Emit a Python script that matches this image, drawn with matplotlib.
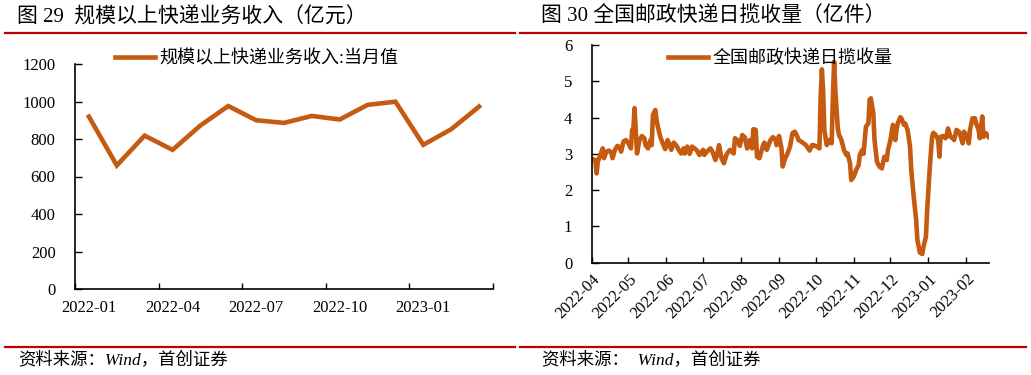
import matplotlib
matplotlib.use("Agg")
import matplotlib.pyplot as plt
import matplotlib.dates as mdates
import numpy as np
import pandas as pd

# ---- Left chart data: monthly revenue (亿元) ----
months = ["2022-01", "2022-02", "2022-03", "2022-04", "2022-05", "2022-06", "2022-07",
          "2022-08", "2022-09", "2022-10", "2022-11", "2022-12", "2023-01", "2023-02", "2023-03"]
revenue = [919, 659, 818, 742, 872, 976, 900, 886, 923, 904, 982, 999, 769, 852, 973]
left_tick_labels = ["2022-01", "2022-04", "2022-07", "2022-10", "2023-01"]

# ---- Right chart data: daily volume (亿件), day offsets from 2022-04-01 ----
day_offsets = [1, 3, 4, 5, 7, 9, 10, 12, 14, 16, 17, 19, 21, 23, 24, 26, 28, 30, 32, 33,
               34, 35, 36, 37, 39, 41, 43, 44, 46, 48, 49, 50, 52, 53, 54, 56, 58, 60, 62, 63,
               65, 67, 69, 71, 73, 75, 76, 78, 80, 82, 84, 86, 88, 91, 92, 94, 97, 99, 101, 103,
               104, 106, 108, 110, 111, 113, 116, 117, 119, 121, 123, 125, 127, 129, 131, 132, 134, 135, 137, 140,
               141, 143, 146, 148, 150, 151, 153, 155, 156, 158, 160, 162, 164, 166, 168, 169, 171, 173, 175, 178,
               180, 181, 184, 186, 187, 188, 189, 190, 192, 194, 196, 197, 198, 199, 201, 202, 204, 206, 208, 209,
               211, 212, 214, 216, 218, 219, 221, 222, 224, 226, 227, 228, 230, 231, 233, 235, 237, 239, 241, 242,
               244, 246, 248, 249, 250, 252, 253, 255, 256, 258, 260, 261, 263, 265, 266, 268, 270, 271, 273, 274,
               276, 278, 279, 281, 283, 284, 285, 287, 289, 290, 291, 293, 295, 296, 298, 300, 301, 303, 304, 306,
               308, 309, 311, 313, 314, 316, 317, 319, 320, 322, 324]
volume = [2.85, 2.83, 2.46, 2.78, 2.97, 3.15, 2.88, 3.06, 3.09, 3.03, 2.88, 3.11, 3.22, 3.18, 3.06, 3.34, 3.38, 3.29, 3.15, 3.66,
          3.66, 4.26, 3.66, 3.01, 3.38, 3.49, 3.43, 3.24, 3.15, 3.38, 3.24, 4.07, 4.21, 3.93, 3.75, 3.47, 3.29, 3.13, 3.38, 3.29,
          3.11, 3.31, 3.24, 3.11, 3.01, 3.15, 3.01, 3.20, 3.00, 3.20, 3.15, 3.09, 2.97, 3.11, 2.97, 3.06, 3.15, 3.03, 2.83, 3.06,
          3.24, 2.88, 2.74, 2.97, 3.03, 3.11, 3.01, 3.43, 3.38, 3.22, 3.52, 3.46, 3.15, 3.38, 3.15, 3.68, 3.66, 2.92, 2.88, 3.24,
          3.31, 3.11, 3.38, 3.46, 3.40, 3.24, 3.49, 3.15, 2.65, 2.88, 3.01, 3.20, 3.57, 3.61, 3.47, 3.38, 3.34, 3.29, 3.24, 3.09,
          3.24, 3.24, 3.20, 3.15, 4.58, 5.33, 4.76, 3.66, 3.24, 3.38, 3.29, 4.58, 5.54, 4.76, 3.70, 3.52, 3.38, 3.11, 2.97, 3.01,
          2.74, 2.28, 2.37, 2.56, 2.69, 2.97, 3.11, 3.00, 3.75, 3.84, 4.49, 4.53, 4.12, 3.38, 2.78, 2.65, 2.60, 2.92, 2.83, 3.11,
          3.38, 3.80, 3.38, 3.66, 3.84, 4.01, 3.98, 3.80, 3.84, 3.66, 3.20, 2.56, 1.82, 1.18, 0.63, 0.28, 0.24, 0.44, 0.72, 1.45,
          2.56, 3.47, 3.58, 3.52, 3.38, 2.92, 3.47, 3.49, 3.43, 3.52, 3.70, 3.47, 3.43, 3.38, 3.66, 3.61, 3.52, 3.29, 3.61, 3.52,
          3.29, 3.66, 3.98, 3.98, 3.84, 3.66, 3.43, 4.03, 3.47, 3.57, 3.47]

LINE_COLOR = "#C55A11"
RED = "#C00000"
CJK = ["Liberation Serif", "Noto Sans CJK SC"]

plt.rcParams["font.family"] = CJK
plt.rcParams["axes.unicode_minus"] = False

fig = plt.figure(figsize=(10.31, 3.75), dpi=100)
W, H = 1031.0, 375.0

def fx(px):
    return px / W

def fy(py):
    return 1 - py / H

# ---- Headers, rules and sources ----
fig.text(fx(17), fy(17), "图 29  规模以上快递业务收入（亿元）", fontsize=15, weight="medium",
         family=CJK, va="center", ha="left")
fig.text(fx(541), fy(17), "图 30 全国邮政快递日揽收量（亿件）", fontsize=15, weight="medium",
         family=CJK, va="center", ha="left")
for x0, x1 in [(5, 515), (520, 1026)]:
    fig.add_artist(plt.Line2D([fx(x0), fx(x1)], [fy(33), fy(33)], color=RED, lw=1.6))
    fig.add_artist(plt.Line2D([fx(x0), fx(x1)], [fy(347), fy(347)], color=RED, lw=1.6))
fig.text(fx(18), fy(361), "资料来源：Wind，首创证券", fontsize=12.5, style="italic",
         family=CJK, va="center", ha="left")
fig.text(fx(542), fy(361), "资料来源：  Wind，首创证券", fontsize=12.5, style="italic",
         family=CJK, va="center", ha="left")

# ---- Left chart ----
ax1 = fig.add_axes([fx(75), fy(289), fx(493) - fx(75), fy(64) - fy(289)])
x1 = np.arange(len(months))
ax1.plot(x1, revenue, color=LINE_COLOR, lw=3.3, solid_joinstyle="miter",
         label="规模以上快递业务收入:当月值")
ax1.set_xlim(-0.5, len(months) - 0.5)
ax1.set_ylim(0, 1200)
ax1.set_yticks(np.arange(0, 1201, 200))
ax1.set_xticks(np.arange(-0.5, len(months), 3))
ax1.set_xticklabels([])
label_pos = [months.index(m) for m in left_tick_labels]
ax1.set_xticks(label_pos, minor=True)
ax1.set_xticklabels(left_tick_labels, minor=True)
ax1.tick_params(axis="x", which="minor", length=0, pad=8, labelsize=12)
ax1.tick_params(axis="x", which="major", direction="in", length=4, width=1)
ax1.tick_params(axis="y", direction="in", length=5, width=1, pad=14, labelsize=12)
for s in ["top", "right"]:
    ax1.spines[s].set_visible(False)
for s in ["left", "bottom"]:
    ax1.spines[s].set_linewidth(1.2)
leg1 = ax1.legend(loc="upper left", bbox_to_anchor=(fx(115), fy(50)), bbox_transform=fig.transFigure,
                  frameon=False, fontsize=13, handlelength=2.2, handletextpad=0.25, borderpad=0, borderaxespad=0)

# ---- Right chart ----
start = pd.Timestamp("2022-04-01")
dates = start + pd.to_timedelta(day_offsets, unit="D")
ax2 = fig.add_axes([fx(591.7), fy(262.7), fx(989) - fx(591.7), fy(45) - fy(262.7)])
ax2.plot(dates, volume, color=LINE_COLOR, lw=3.3, label="全国邮政快递日揽收量")
ax2.set_xlim(start, start + pd.Timedelta(days=324.5))
ax2.set_ylim(0, 6)
ax2.set_yticks(np.arange(0, 7, 1))
ax2.xaxis.set_major_locator(mdates.MonthLocator())
ax2.xaxis.set_major_formatter(mdates.DateFormatter("%Y-%m"))
ax2.tick_params(axis="x", direction="in", length=4, width=1, pad=6, labelsize=12)
ax2.tick_params(axis="y", direction="in", length=5, width=1, pad=14, labelsize=12)
for lab in ax2.get_xticklabels():
    lab.set_rotation(45)
    lab.set_ha("right")
    lab.set_rotation_mode("anchor")
for s in ["top", "right"]:
    ax2.spines[s].set_visible(False)
for s in ["left", "bottom"]:
    ax2.spines[s].set_linewidth(1.2)
leg2 = ax2.legend(loc="upper left", bbox_to_anchor=(fx(668), fy(50)), bbox_transform=fig.transFigure,
                  frameon=False, fontsize=13, handlelength=2.2, handletextpad=0.25, borderpad=0, borderaxespad=0)

fig.savefig("out.png", dpi=100)
